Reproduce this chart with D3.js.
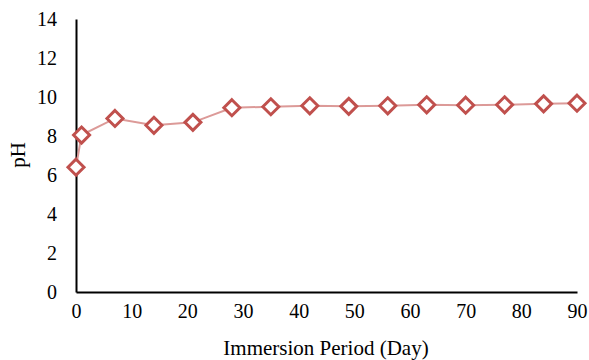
<!DOCTYPE html>
<html>
<head>
<script src="https://d3js.org/d3.v7.min.js"></script>
<style>
  body { margin: 0; background: #fff; }
  svg text { font-family: "Liberation Serif", "Times New Roman", serif; fill: #000; }
</style>
</head>
<body>
<svg width="589" height="360"></svg>
<script>
var days = [0, 1, 7, 14, 21, 28, 35, 42, 49, 56, 63, 70, 77, 84, 90];
var ph = [6.4, 8.05, 8.9, 8.55, 8.7, 9.45, 9.5, 9.55, 9.52, 9.55, 9.6, 9.58, 9.6, 9.65, 9.68];
var xTicks = [0, 10, 20, 30, 40, 50, 60, 70, 80, 90];
var yTicks = [0, 2, 4, 6, 8, 10, 12, 14];

var svg = d3.select("svg");
var x = d3.scaleLinear().domain([0, 90]).range([76, 577]);
var y = d3.scaleLinear().domain([0, 14]).range([292, 19]);

var serif = '"Liberation Serif", "Times New Roman", serif';

// axes
var xa = svg.append("g").attr("transform", "translate(0,292)")
  .call(d3.axisBottom(x).tickValues(xTicks).tickSize(0).tickPadding(12));
xa.select(".domain").attr("stroke", "#000").attr("stroke-width", 2);
xa.selectAll("text").style("font-size", "20px").style("font-family", serif);

var ya = svg.append("g").attr("transform", "translate(76,0)")
  .call(d3.axisLeft(y).tickValues(yTicks).tickSize(0).tickPadding(19));
ya.select(".domain").attr("stroke", "#000").attr("stroke-width", 2);
ya.selectAll("text").style("font-size", "20px").style("font-family", serif);

// line
var pts = days.map(function(d, i) { return [d, ph[i]]; });
svg.append("path")
  .datum(pts)
  .attr("fill", "none")
  .attr("stroke", "#dc9a98")
  .attr("stroke-width", 2)
  .attr("d", d3.line().x(d => x(d[0])).y(d => y(d[1])));

// markers
svg.selectAll(".m")
  .data(pts)
  .join("path")
  .attr("class", "m")
  .attr("transform", d => "translate(" + x(d[0]) + "," + y(d[1]) + ")")
  .attr("d", "M0,-8L8,0L0,8L-8,0Z")
  .attr("fill", "#fff")
  .attr("stroke", "#c0504d")
  .attr("stroke-width", 3);

// titles
svg.append("text")
  .attr("x", 326).attr("y", 355)
  .attr("text-anchor", "middle")
  .style("font-size", "21px")
  .text("Immersion Period (Day)");

svg.append("text")
  .attr("transform", "translate(25,155) rotate(-90)")
  .attr("text-anchor", "middle")
  .style("font-size", "21px")
  .text("pH");
</script>
</body>
</html>
